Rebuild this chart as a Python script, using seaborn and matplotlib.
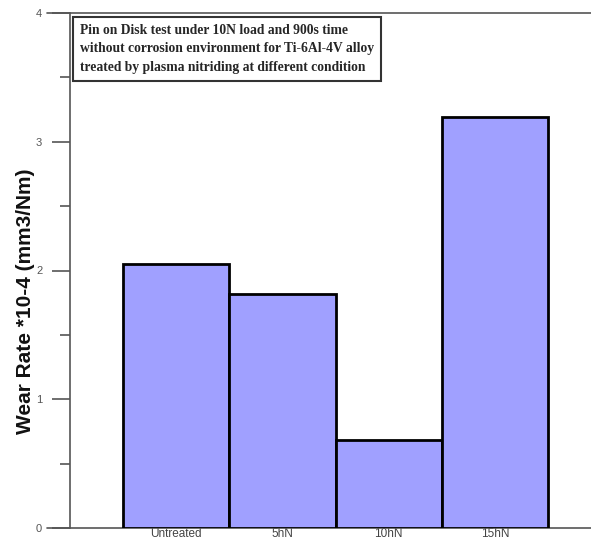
import matplotlib
matplotlib.use("Agg")
import matplotlib.pyplot as plt
import seaborn as sns
import pandas as pd
from matplotlib.ticker import MultipleLocator

# 数据
conditions = ["Untreated", "5hN", "10hN", "15hN"]
wear_rate = [2.05, 1.82, 0.68, 3.19]

note = ("Pin on Disk test under 10N load and 900s time\n"
        "without corrosion environment for Ti-6Al-4V alloy\n"
        "treated by plasma nitriding at different condition")

df = pd.DataFrame({"condition": conditions, "wear": wear_rate})

sns.set_style("white")
plt.rcParams['font.family'] = ['Liberation Sans', 'DejaVu Sans']

fig = plt.figure(figsize=(5.91, 5.39), dpi=100)
ax = fig.add_axes([70 / 591, 11 / 539, 1 - 70 / 591, 515 / 539])

sns.barplot(data=df, x="condition", y="wear", color="#a0a0ff", saturation=1,
            width=1.0, edgecolor="black", linewidth=2, ax=ax, zorder=3)

ax.set_xlim(-1.0, 3.905)
ax.set_ylim(0, 4)

# 坐标轴样式
for side in ["right", "bottom", "top"]:
    ax.spines[side].set_visible(False)
ax.spines["left"].set_color("#555555")
ax.spines["left"].set_linewidth(1.2)
ax.axhline(0, xmin=-0.044, xmax=1, color="#555555", lw=1.2, clip_on=False, zorder=1)
ax.axhline(4, xmin=-0.044, xmax=1, color="#555555", lw=1.2, clip_on=False, zorder=1)

ax.yaxis.set_major_locator(MultipleLocator(1))
ax.yaxis.set_minor_locator(MultipleLocator(0.5))
ax.tick_params(axis="y", which="major", direction="out", length=13, width=1.2,
               color="#555555", labelsize=8, labelcolor="#555555", pad=7, left=True)
ax.tick_params(axis="y", which="minor", direction="out", length=7, width=1.2,
               color="#555555", left=True)
ax.tick_params(axis="x", length=0, labelsize=8.5, labelcolor="#444444", pad=0)

ax.set_xlabel("")
ax.set_ylabel("Wear Rate *10-4 (mm3/Nm)", fontsize=15, fontweight="bold", color="#111111")
ax.yaxis.set_label_coords(-0.068, 0.44)

ax.text(0.019, 0.979, note, transform=ax.transAxes, ha="left", va="top",
        fontsize=9.8, fontweight="bold", family=["Liberation Serif", "DejaVu Serif"],
        linespacing=1.55, zorder=5,
        bbox=dict(boxstyle="square,pad=0.5", facecolor="white",
                  edgecolor="#333333", linewidth=1.5))

fig.savefig("out.png", dpi=100)
